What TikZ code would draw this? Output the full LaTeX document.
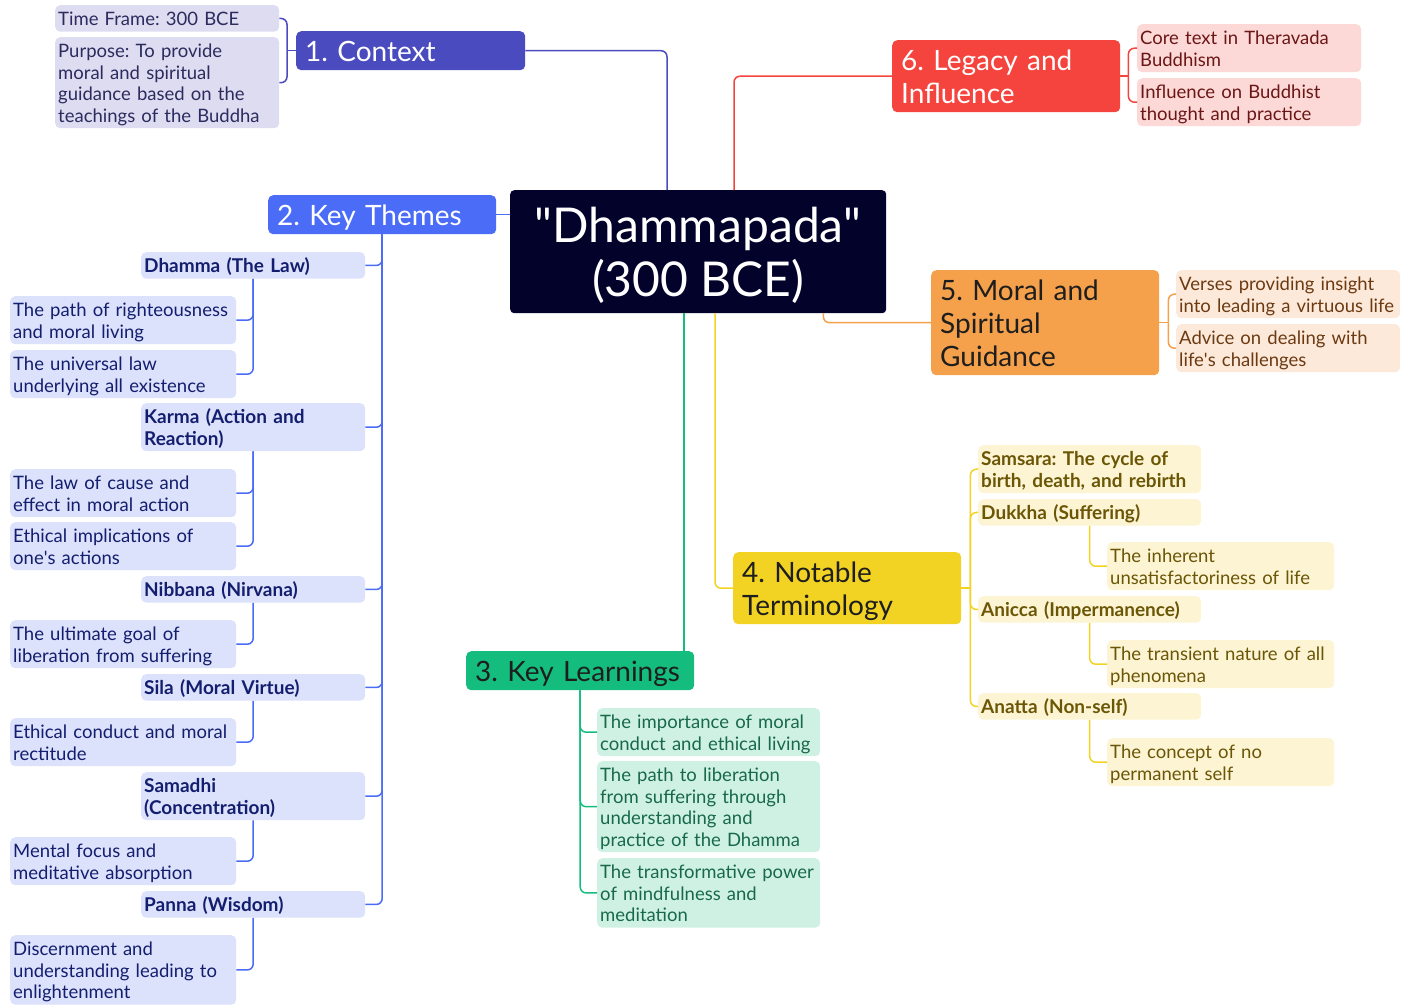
\documentclass[tikz,border=0pt]{standalone}
\usepackage{fontspec}
\setmainfont{Lato}
\frenchspacing
\hyphenpenalty=10000
\exhyphenpenalty=10000
\usetikzlibrary{calc}

% struts that fix the first-line height and last-line depth of a box
\newcommand\leafTop{\rule{0pt}{18pt}}
\newcommand\leafBot{\rule[-3.5pt]{0pt}{3.5pt}}
\newcommand\branchTop{\rule{0pt}{27.5pt}}
\newcommand\branchBot{\rule[-5.5pt]{0pt}{5.5pt}}

% palette
\definecolor{coreFill}{HTML}{02022A}
\definecolor{ctxMain}{HTML}{4B4BC0}
\definecolor{ctxSoft}{HTML}{DDDCF1}
\definecolor{ctxText}{HTML}{2B2B5E}
\definecolor{thmMain}{HTML}{4A6CF7}
\definecolor{thmSoft}{HTML}{DCE1FC}
\definecolor{thmText}{HTML}{131E6E}
\definecolor{lrnMain}{HTML}{14BD7E}
\definecolor{lrnSoft}{HTML}{CFF1E4}
\definecolor{lrnText}{HTML}{17694A}
\definecolor{trmMain}{HTML}{F2D324}
\definecolor{trmSoft}{HTML}{FCF4D3}
\definecolor{trmText}{HTML}{6B5606}
\definecolor{gdnMain}{HTML}{F5A04B}
\definecolor{gdnSoft}{HTML}{FDE9D9}
\definecolor{gdnText}{HTML}{6B3A12}
\definecolor{lgcMain}{HTML}{F5443D}
\definecolor{lgcSoft}{HTML}{FCD9D7}
\definecolor{lgcText}{HTML}{6B1616}
\definecolor{darkText}{HTML}{1E1E1E}

\tikzset{
  leaf/.style={anchor=north west, rounded corners=5pt, align=left,
    inner xsep=3pt, inner ysep=2.5pt, text width=218pt,
    font=\fontsize{18.5}{21.5}\selectfont,
    execute at begin node=\leafTop, execute at end node=\leafBot},
  branch/.style={anchor=north west, rounded corners=5pt, align=left,
    inner xsep=9pt, inner ysep=3pt, text width=210pt,
    font=\fontsize{28}{33}\selectfont,
    execute at begin node=\branchTop, execute at end node=\branchBot},
  core/.style={anchor=north west, rounded corners=4pt, fill=coreFill,
    text=white, align=center, minimum width=376pt, minimum height=123pt,
    font=\fontsize{48}{54}\selectfont},
  link/.style={line width=1.5pt, rounded corners=6pt},
  ctxleaf/.style={leaf, fill=ctxSoft, text=ctxText},
  thmhead/.style={leaf, fill=thmSoft, text=thmText, font=\fontsize{19}{21.5}\selectfont\bfseries},
  thmleaf/.style={leaf, fill=thmSoft, text=thmText, text width=220pt},
  lrnleaf/.style={leaf, fill=lrnSoft, text=lrnText, text width=217pt},
  trmhead/.style={leaf, fill=trmSoft, text=trmText, text width=217pt, font=\fontsize{19}{21.5}\selectfont\bfseries},
  trmleaf/.style={leaf, fill=trmSoft, text=trmText, text width=221pt},
  gdnleaf/.style={leaf, fill=gdnSoft, text=gdnText},
  lgcleaf/.style={leaf, fill=lgcSoft, text=lgcText},
}

\begin{document}
\begin{tikzpicture}[x=1pt,y=-1pt]
\useasboundingbox (0,0) rectangle (1412,1005);

% central topic
\node[core] (core) at (510,190) {\rule{0pt}{43pt}\textquotedbl Dhammapada\textquotedbl\\(300 BCE)};

% ---------- 1. Context ----------
\node[branch, fill=ctxMain, text=white, text width=211pt] (ctx) at (296,31) {1. Context};
\node[ctxleaf] (tf) at (55,5) {Time Frame: 300 BCE};
\node[ctxleaf] (pu) at (55,37) {Purpose: To provide\\moral and spiritual\\guidance based on the\\teachings of the Buddha};
\coordinate (ctxj) at ($(ctx.west)+(-9,0)$);
\draw[link, ctxMain] (ctx.east) -| ($(core.north west)+(157,0)$);
\draw[link, ctxMain] (tf.east) -| (ctxj);
\draw[link, ctxMain] (pu.east) -| (ctxj);
\draw[link, ctxMain] (ctxj) -- (ctx.west);

% ---------- 2. Key Themes ----------
\node[branch, fill=thmMain, text=white] (kt) at (268,195) {2. Key Themes};
\draw[link, thmMain] (kt.east) -- (core.west |- kt.east);

\node[thmhead] (dh) at (141,252) {Dhamma (The Law)};
\node[thmleaf] (dh1) at (10,296) {The path of righteousness\\and moral living};
\node[thmleaf] (dh2) at (10,350) {The universal law\\underlying all existence};
\node[thmhead] (ka) at (141,403) {Karma (Action and\\Reaction)};
\node[thmleaf] (ka1) at (10,469) {The law of cause and\\effect in moral action};
\node[thmleaf] (ka2) at (10,522) {Ethical implications of\\one\textquotesingle s actions};
\node[thmhead] (ni) at (141,576) {Nibbana (Nirvana)};
\node[thmleaf] (ni1) at (10,620) {The ultimate goal of\\liberation from suffering};
\node[thmhead] (si) at (141,674) {Sila (Moral Virtue)};
\node[thmleaf] (si1) at (10,718) {Ethical conduct and moral\\rectitude};
\node[thmhead] (sa) at (141,772) {Samadhi\\(Concentration)};
\node[thmleaf] (sa1) at (10,837) {Mental focus and\\meditative absorption};
\node[thmhead] (pa) at (141,891) {Panna (Wisdom)};
\node[thmleaf] (pa1) at (10,935) {Discernment and\\understanding leading to\\enlightenment};

\foreach \h in {dh,ka,ni,si,sa,pa}
  \draw[link, thmMain] (\h.east) -| (kt.south);
\foreach \s/\h in {dh1/dh,dh2/dh,ka1/ka,ka2/ka,ni1/ni,si1/si,sa1/sa,pa1/pa}
  \draw[link, thmMain] (\s.east) -| (\h.south);

% ---------- 3. Key Learnings ----------
\node[branch, fill=lrnMain, text=darkText] (kl) at (466,651) {3. Key Learnings};
\draw[link, lrnMain] ($(core.south west)+(174,0)$) -- ($(kl.north west)+(218,0)$);
\node[lrnleaf] (kl1) at (597,708) {The importance of moral\\conduct and ethical living};
\node[lrnleaf] (kl2) at (597,761) {The path to liberation\\from suffering through\\understanding and\\practice of the Dhamma};
\node[lrnleaf] (kl3) at (597,858) {The transformative power\\of mindfulness and\\meditation};
\foreach \s in {kl1,kl2,kl3}
  \draw[link, lrnMain] (\s.west) -| (kl.south);

% ---------- 4. Notable Terminology ----------
\node[branch, fill=trmMain, text=darkText] (nt) at (733,552) {4. Notable\\Terminology};
\draw[link, trmMain] ($(core.south west)+(205,0)$) |- (nt.west);
\node[trmhead] (t1) at (978,445) {Samsara: The cycle of\\birth, death, and rebirth};
\node[trmhead] (t2) at (978,499) {Dukkha (Suffering)};
\node[trmleaf] (t2a) at (1107,542) {The inherent\\unsatisfactoriness of life};
\node[trmhead] (t3) at (978,596) {Anicca (Impermanence)};
\node[trmleaf] (t3a) at (1107,640) {The transient nature of all\\phenomena};
\node[trmhead] (t4) at (978,693) {Anatta (Non-self)};
\node[trmleaf] (t4a) at (1107,738) {The concept of no\\permanent self};
\coordinate (ntj) at ($(nt.east)+(9,0)$);
\draw[link, trmMain] (nt.east) -- (ntj);
\foreach \h in {t1,t2,t3,t4}
  \draw[link, trmMain] (\h.west) -| (ntj);
\foreach \s/\h in {t2a/t2,t3a/t3,t4a/t4}
  \draw[link, trmMain] (\s.west) -| (\h.south);

% ---------- 5. Moral and Spiritual Guidance ----------
\node[branch, fill=gdnMain, text=darkText] (mg) at (931,270) {5. Moral and\\Spiritual\\Guidance};
\draw[link, gdnMain] ($(core.south east)+(-63,0)$) |- (mg.west);
\node[gdnleaf] (mg1) at (1176,270) {Verses providing insight\\into leading a virtuous life};
\node[gdnleaf] (mg2) at (1176,324) {Advice on dealing with\\life\textquotesingle s challenges};
\coordinate (mgj) at ($(mg.east)+(9,0)$);
\draw[link, gdnMain] (mg.east) -- (mgj);
\foreach \s in {mg1,mg2}
  \draw[link, gdnMain] (\s.west) -| (mgj);

% ---------- 6. Legacy and Influence ----------
\node[branch, fill=lgcMain, text=white] (li) at (892,40) {6. Legacy and\\Influence};
\draw[link, lgcMain] ($(core.north west)+(224,0)$) |- (li.west);
\node[lgcleaf] (li1) at (1137,24) {Core text in Theravada\\Buddhism};
\node[lgcleaf] (li2) at (1137,78) {Influence on Buddhist\\thought and practice};
\coordinate (lij) at ($(li.east)+(8,0)$);
\draw[link, lgcMain] (li.east) -- (lij);
\foreach \s in {li1,li2}
  \draw[link, lgcMain] (\s.west) -| (lij);

\end{tikzpicture}
\end{document}
